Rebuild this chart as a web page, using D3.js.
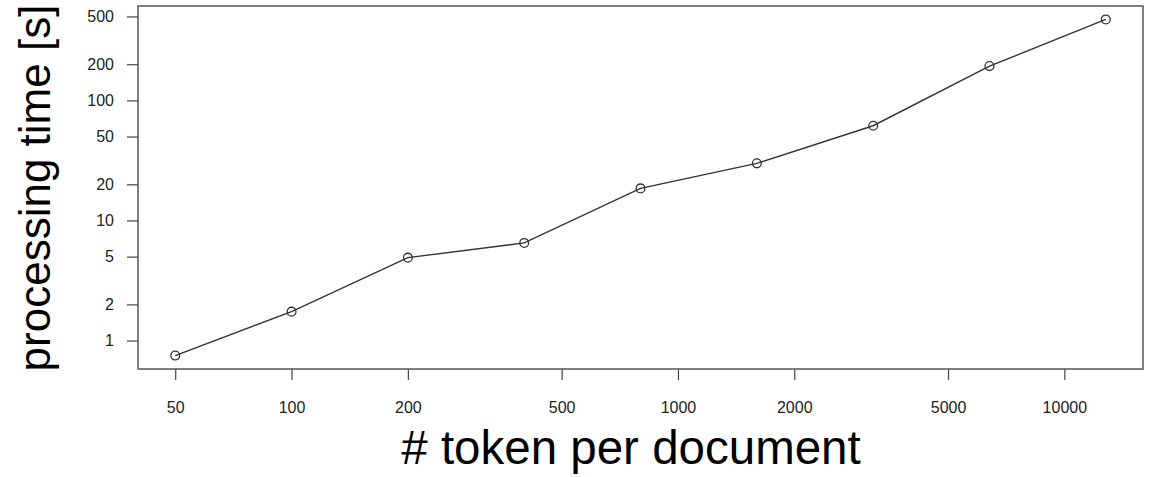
<!DOCTYPE html>
<html>
<head>
<meta charset="utf-8">
<script src="https://cdn.jsdelivr.net/npm/d3@7"></script>
<style>
  html, body { margin: 0; padding: 0; background: #fff; }
  svg { display: block; }
  text { font-family: "Liberation Sans", Arial, Helvetica, sans-serif; }
</style>
</head>
<body>
<svg id="chart" width="1151" height="477"></svg>
<script>
// Document length (tokens) vs. processing time (seconds)
const tokens = [50, 100, 200, 400, 800, 1600, 3200, 6400, 12800];
const seconds = [0.75, 1.74, 4.9, 6.5, 18.5, 29.9, 61.5, 193, 472];
const xTicks = [50, 100, 200, 500, 1000, 2000, 5000, 10000];
const yTicks = [1, 2, 5, 10, 20, 50, 100, 200, 500];

const plot = { left: 138, right: 1143, top: 6, bottom: 369 };

// log-space extent padded by 4% on each side
function padLog(vals) {
  const lo = Math.log10(d3.min(vals)), hi = Math.log10(d3.max(vals));
  const p = (hi - lo) * 0.04;
  return [Math.pow(10, lo - p), Math.pow(10, hi + p)];
}

const x = d3.scaleLog().domain(padLog(tokens)).range([plot.left, plot.right]);
const y = d3.scaleLog().domain(padLog(seconds)).range([plot.bottom, plot.top]);

const svg = d3.select("#chart");

// x axis
const xAxis = svg.append("g")
  .attr("transform", `translate(0,${plot.bottom})`)
  .call(d3.axisBottom(x).tickValues(xTicks).tickFormat(d3.format("d"))
    .tickSize(11).tickPadding(22).tickSizeOuter(0));
xAxis.select(".domain").remove();
xAxis.selectAll(".tick line").attr("stroke", "#444").attr("stroke-width", 1.2);
xAxis.selectAll(".tick text").attr("font-size", 16).attr("fill", "#222")
  .attr("font-family", "Liberation Sans, Arial, sans-serif");

// y axis
const yAxis = svg.append("g")
  .attr("transform", `translate(${plot.left},0)`)
  .call(d3.axisLeft(y).tickValues(yTicks).tickFormat(d3.format("d"))
    .tickSize(11).tickPadding(13).tickSizeOuter(0));
yAxis.select(".domain").remove();
yAxis.selectAll(".tick line").attr("stroke", "#444").attr("stroke-width", 1.2);
yAxis.selectAll(".tick text").attr("font-size", 16).attr("fill", "#222")
  .attr("font-family", "Liberation Sans, Arial, sans-serif");

// frame around the plotting region
svg.append("rect")
  .attr("x", plot.left).attr("y", plot.top)
  .attr("width", plot.right - plot.left).attr("height", plot.bottom - plot.top)
  .attr("fill", "none").attr("stroke", "#555").attr("stroke-width", 1.5);

const pts = tokens.map((t, i) => [t, seconds[i]]);

// connecting line
svg.append("path")
  .datum(pts)
  .attr("fill", "none")
  .attr("stroke", "#333")
  .attr("stroke-width", 1.4)
  .attr("d", d3.line().x(d => x(d[0])).y(d => y(d[1])));

// open circle markers
svg.append("g").selectAll("circle")
  .data(pts)
  .join("circle")
  .attr("cx", d => x(d[0]))
  .attr("cy", d => y(d[1]))
  .attr("r", 4.4)
  .attr("fill", "none")
  .attr("stroke", "#333")
  .attr("stroke-width", 1.3);

// axis titles
svg.append("text")
  .attr("x", 631)
  .attr("y", 464)
  .attr("text-anchor", "middle")
  .attr("font-size", 47.5)
  .attr("fill", "#000")
  .text("# token per document");

svg.append("text")
  .attr("transform", `translate(50,188) rotate(-90)`)
  .attr("text-anchor", "middle")
  .attr("font-size", 44)
  .attr("fill", "#000")
  .text("processing time [s]");
</script>
</body>
</html>
